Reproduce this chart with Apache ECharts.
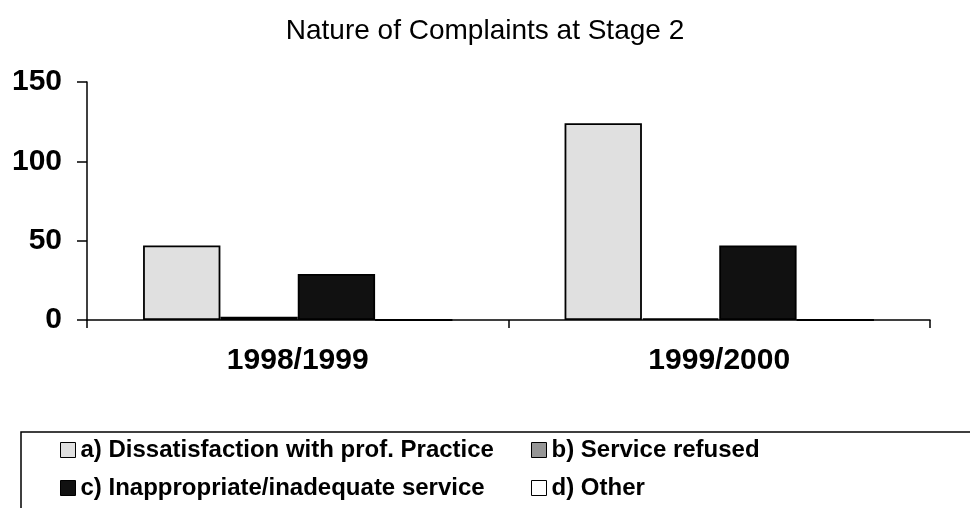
<!DOCTYPE html>
<html>
<head>
<meta charset="utf-8">
<script src="https://cdn.jsdelivr.net/npm/echarts@6/dist/echarts.min.js"></script>
<style>
  html, body { margin: 0; padding: 0; background: #fff; }
  #chart { width: 970px; height: 508px; }
</style>
</head>
<body>
<div id="chart"></div>
<script>
// data
var categories = ['1998/1999', '1999/2000'];
var seriesNames = [
  'a) Dissatisfaction with prof. Practice',
  'b) Service refused',
  'c) Inappropriate/inadequate service',
  'd) Other'
];
var dissatisfaction = [47, 124];
var refused = [2, 1];
var inappropriate = [29, 47];
var other = [0, 0];
var yTicks = [0, 50, 100, 150];

var colors = ['#e0e0e0', '#969696', '#111111', '#ffffff'];
var values = [dissatisfaction, refused, inappropriate, other];

var chart = echarts.init(document.getElementById('chart'));

var series = seriesNames.map(function (name, i) {
  return {
    name: name,
    type: 'bar',
    data: values[i],
    barGap: '0%',
    barCategoryGap: '26.6%',
    itemStyle: { color: colors[i], borderColor: '#000', borderWidth: 1.8 }
  };
});

var legendText = { fontFamily: 'Liberation Sans', fontWeight: 'bold', fontSize: 24, color: '#000' };
var legendBase = {
  orient: 'vertical',
  top: 438,
  padding: 0,
  itemWidth: 15,
  itemHeight: 15,
  itemGap: 14,
  icon: 'rect',
  textStyle: legendText,
  itemStyle: { borderColor: '#000', borderWidth: 1 },
  selectedMode: false
};

var option = {
  backgroundColor: '#ffffff',
  animation: false,
  title: {
    text: 'Nature of Complaints at Stage 2',
    left: 'center',
    top: 12,
    textStyle: { fontFamily: 'Liberation Sans', fontWeight: 'normal', fontSize: 28, color: '#000' }
  },
  grid: { left: 87, right: 40, top: 82, bottom: 188 },
  legend: [
    Object.assign({}, legendBase, { left: 60, data: [seriesNames[0], seriesNames[2]] }),
    Object.assign({}, legendBase, { left: 531, data: [seriesNames[1], seriesNames[3]] })
  ],
  xAxis: {
    type: 'category',
    data: categories,
    axisLine: { lineStyle: { color: '#000', width: 1.5 } },
    axisTick: { show: true, length: 8, lineStyle: { color: '#000', width: 1.5 } },
    axisLabel: { margin: 26, fontFamily: 'Liberation Sans', fontWeight: 'bold', fontSize: 30, color: '#000' }
  },
  yAxis: {
    type: 'value',
    min: yTicks[0],
    max: yTicks[yTicks.length - 1],
    interval: yTicks[1] - yTicks[0],
    splitLine: { show: false },
    axisLine: { show: true, lineStyle: { color: '#000', width: 1.5 } },
    axisTick: { show: true, length: 10, lineStyle: { color: '#000', width: 1.5 } },
    axisLabel: { margin: 25, fontFamily: 'Liberation Sans', fontWeight: 'bold', fontSize: 30, color: '#000' }
  },
  graphic: [{
    type: 'rect',
    shape: { x: 21, y: 432, width: 980, height: 100 },
    style: { fill: 'none', stroke: '#000', lineWidth: 1.5 }
  }],
  series: series
};

chart.setOption(option);
</script>
</body>
</html>
